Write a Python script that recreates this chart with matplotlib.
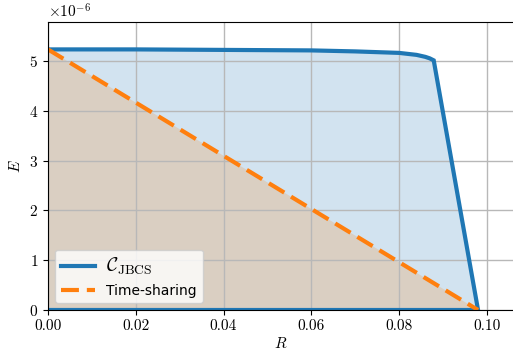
import matplotlib

matplotlib.use("Agg")
import matplotlib.pyplot as plt

# JBCS region boundary (R, E)
r_jbcs = [0.0, 0.02, 0.04, 0.06, 0.07, 0.08, 0.084, 0.086, 0.087, 0.0879, 0.098, 0.0]
e_jbcs = [5.23e-6, 5.23e-6, 5.22e-6, 5.21e-6, 5.19e-6, 5.16e-6, 5.12e-6, 5.08e-6,
          5.05e-6, 5.01e-6, 0.0, 0.0]

# time-sharing line
r_ts = [0.0, 0.098]
e_ts = [5.23e-6, 0.0]

plt.rcParams["font.family"] = "serif"
plt.rcParams["font.serif"] = ["cmr10", "DejaVu Serif"]
plt.rcParams["mathtext.fontset"] = "cm"
plt.rcParams["axes.formatter.use_mathtext"] = True
plt.rcParams["font.size"] = 11

fig = plt.figure(figsize=(5.13, 3.6), dpi=100)
ax = fig.add_axes([48 / 513, 50 / 360, 1 - 48 / 513 + 0.002, 288 / 360])

ax.fill(r_jbcs, e_jbcs, color="tab:blue", alpha=0.2, lw=0)
ax.fill(r_ts + [0.0], e_ts + [0.0], color="tab:orange", alpha=0.2, lw=0)
ax.plot(r_jbcs, e_jbcs, color="tab:blue", lw=3, label=r"$\mathcal{C}_{\mathrm{JBCS}}$",
        solid_joinstyle="miter")
ax.plot(r_ts, e_ts, color="tab:orange", lw=3, dashes=(4.3, 1.9), label="Time-sharing")

ax.set_xlim(0, 0.1062)
ax.set_ylim(0, 5.78e-6)
ax.set_xticks([0.0, 0.02, 0.04, 0.06, 0.08, 0.10])
ax.set_xticklabels(["0.00", "0.02", "0.04", "0.06", "0.08", "0.10"])
ax.set_xlabel(r"$R$", labelpad=2)
ax.set_ylabel(r"$E$")
ax.grid(True, color="#b8b8b8", lw=1)
ax.set_axisbelow("line")
ax.spines["right"].set_visible(False)

leg = ax.legend(loc="lower left", prop={"family": "DejaVu Sans", "size": 10},
                handlelength=2.5, borderaxespad=0.5)
leg.get_texts()[0].set_fontsize(14)

fig.savefig("out.png", dpi=100)
